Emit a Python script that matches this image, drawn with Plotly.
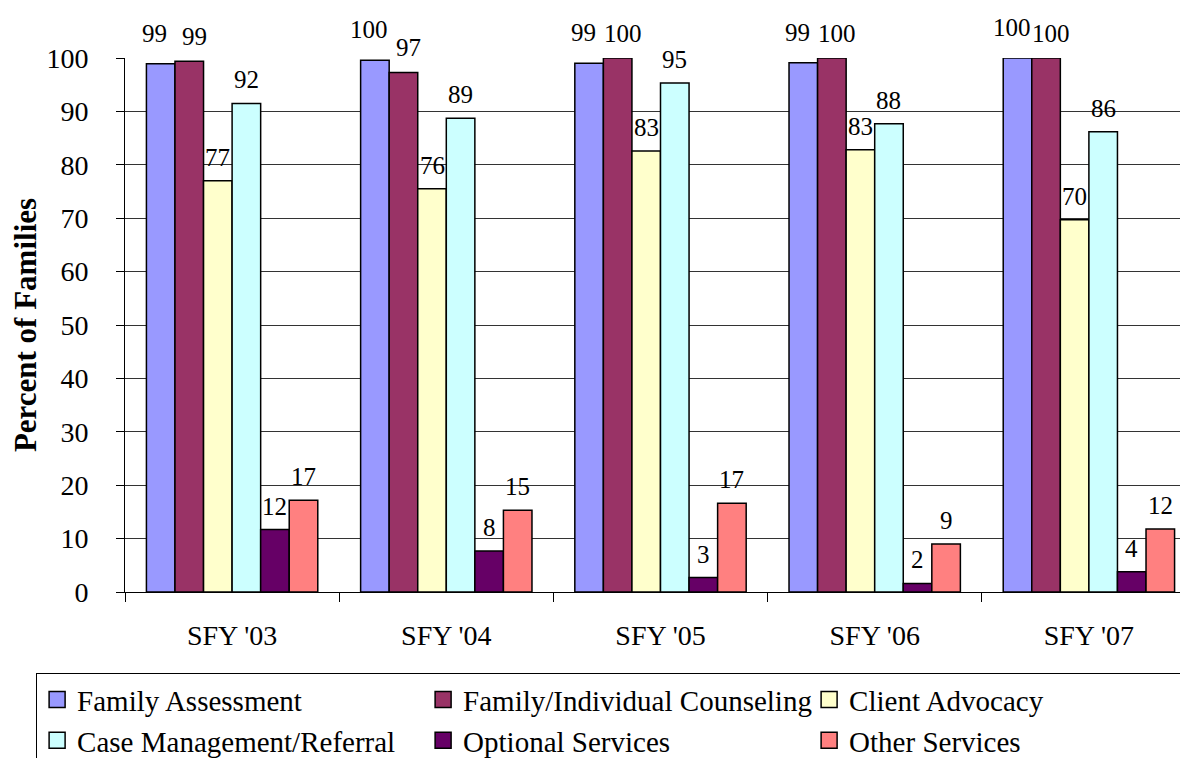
import plotly.graph_objects as go

categories = ["SFY '03", "SFY '04", "SFY '05", "SFY '06", "SFY '07"]

series_names = [
    "Family Assessment",
    "Family/Individual Counseling",
    "Client Advocacy",
    "Case Management/Referral",
    "Optional Services",
    "Other Services",
]

family_assessment = [98.9, 99.6, 99.0, 99.1, 100.0]
family_counseling = [99.4, 97.3, 100.0, 100.0, 100.0]
client_advocacy = [77.0, 75.5, 82.6, 82.8, 69.7]
case_management = [91.5, 88.7, 95.3, 87.7, 86.2]
optional_services = [11.7, 7.7, 2.7, 1.6, 3.8]
other_services = [17.2, 15.3, 16.6, 9.0, 11.8]

series_values = [
    family_assessment,
    family_counseling,
    client_advocacy,
    case_management,
    optional_services,
    other_services,
]

colors = ["#9999FF", "#993366", "#FFFFCC", "#CCFFFF", "#660066", "#FF8080"]
label_yshift = [15, 9, 8, 8, 8, 8]
label_xshift = [-6, 5, 0, 0, 0, 0]

FONT = "Liberation Serif, Times New Roman, serif"
BARGAP = 0.2

fig = go.Figure()
for name, vals, col in zip(series_names, series_values, colors):
    fig.add_trace(go.Bar(
        name=name, x=categories, y=vals, showlegend=False,
        marker=dict(color=col, line=dict(color="black", width=1.5)),
    ))

# legend entries (square swatches like the original)
for name, col in zip(series_names, colors):
    fig.add_trace(go.Scatter(
        name=name, x=[None], y=[None], mode="markers",
        marker=dict(symbol="square", size=16, color=col,
                    line=dict(color="black", width=1.5)),
        showlegend=True, hoverinfo="skip",
    ))

n = len(series_values)
slot = (1 - BARGAP) / n
annotations = []
for i, vals in enumerate(series_values):
    for j, v in enumerate(vals):
        annotations.append(dict(
            x=j + (i - (n - 1) / 2) * slot, y=v, xref="x", yref="y",
            text=str(int(round(v))), showarrow=False,
            yanchor="bottom", xanchor="center",
            yshift=label_yshift[i], xshift=label_xshift[i],
            font=dict(family=FONT, size=25, color="black"),
        ))

fig.update_layout(
    width=1188, height=758,
    margin=dict(l=117, r=0, t=50, b=174, autoexpand=False),
    paper_bgcolor="white", plot_bgcolor="white",
    barmode="group", bargap=BARGAP, bargroupgap=0,
    font=dict(family=FONT, size=28, color="black"),
    annotations=annotations,
    legend=dict(
        orientation="h", x=-0.083, xanchor="left", y=-0.152, yanchor="top",
        bordercolor="black", borderwidth=1,
        font=dict(family=FONT, size=29, color="black"),
        entrywidth=341, entrywidthmode="pixels",
        traceorder="normal", itemsizing="trace",
    ),
    showlegend=True,
)

fig.update_xaxes(
    type="category", categoryorder="array", categoryarray=categories,
    range=[-0.5, 4.5], automargin=False,
    showline=True, linecolor="black", linewidth=1,
    ticks="outside", tickson="boundaries", ticklen=9, tickcolor="black",
    ticklabelstandoff=18, showgrid=False,
    tickfont=dict(family=FONT, size=28, color="black"),
)
fig.update_yaxes(
    range=[0, 100], dtick=10, tick0=0,
    showline=True, linecolor="black", linewidth=1,
    ticks="outside", ticklen=8, tickcolor="black",
    showgrid=True, gridcolor="#333333", gridwidth=1,
    zeroline=False, ticklabelstandoff=22,
    tickfont=dict(family=FONT, size=28, color="black"),
    title=dict(text="<b>Percent of Families</b>", standoff=25,
               font=dict(family=FONT, size=31, color="black")),
    automargin=False,
)

fig.write_html("out.html")
